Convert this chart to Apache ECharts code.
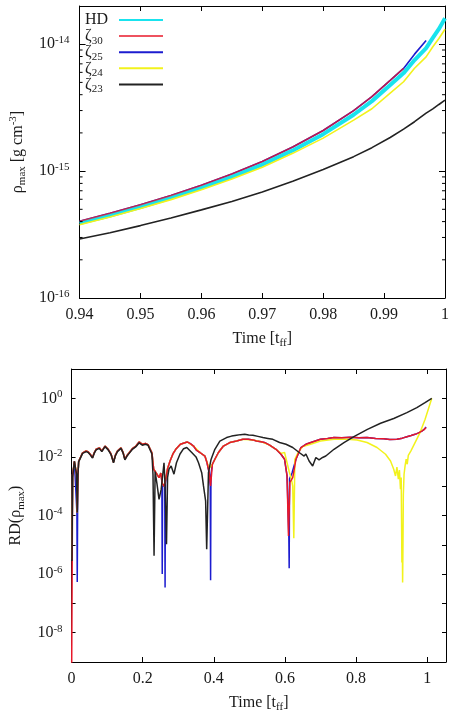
<!DOCTYPE html>
<html>
<head>
<meta charset="utf-8">
<script src="https://cdn.jsdelivr.net/npm/echarts@6.0.0/dist/echarts.min.js"></script>
<style>
    html, body { margin: 0; padding: 0; background: #fff; }
    #chart { width: 453px; height: 717px; }
</style>
</head>
<body>
<div id="chart"></div>
<script>
// ---- top panel: rho_max near collapse (t in t_ff) ----
const tZoom = [0.940, 0.945, 0.950, 0.955, 0.960, 0.965, 0.970, 0.975, 0.980, 0.985, 0.988, 0.991, 0.9932, 0.995, 0.9969, 0.998, 0.999, 1.000];
const rhoHD  = [3.89e-16, 4.47e-16, 5.21e-16, 6.17e-16, 7.38e-16, 9.02e-16, 1.125e-15, 1.455e-15, 1.954e-15, 2.78e-15, 3.56e-15, 4.76e-15, 5.92e-15, 7.50e-15, 9.31e-15, 1.12e-14, 1.32e-14, 1.60e-14];
const rhoZ30 = [4.03e-16, 4.66e-16, 5.43e-16, 6.43e-16, 7.73e-16, 9.48e-16, 1.19e-15, 1.55e-15, 2.09e-15, 3.00e-15, 3.86e-15, 5.18e-15, 6.44e-15];
const rhoZ25 = [4.03e-16, 4.66e-16, 5.43e-16, 6.43e-16, 7.73e-16, 9.48e-16, 1.19e-15, 1.55e-15, 2.09e-15, 3.00e-15, 3.86e-15, 5.18e-15, 6.44e-15, 8.35e-15, 1.07e-14];
const rhoZ24 = [3.78e-16, 4.35e-16, 5.07e-16, 5.96e-16, 7.13e-16, 8.65e-16, 1.074e-15, 1.38e-15, 1.82e-15, 2.52e-15, 3.10e-15, 4.11e-15, 5.06e-15, 6.46e-15, 7.94e-15, 9.55e-15, 1.11e-14, 1.31e-14];
const rhoZ23 = [2.92e-16, 3.27e-16, 3.72e-16, 4.27e-16, 4.95e-16, 5.75e-16, 6.84e-16, 8.32e-16, 1.03e-15, 1.30e-15, 1.53e-15, 1.84e-15, 2.14e-15, 2.45e-15, 2.86e-15, 3.09e-15, 3.35e-15, 3.62e-15];

// minor ticks of the top log axis
const rhoMinorTicks = [2e-16, 3e-16, 4e-16, 5e-16, 6e-16, 7e-16, 8e-16, 9e-16,
                       2e-15, 3e-15, 4e-15, 5e-15, 6e-15, 7e-15, 8e-15, 9e-15];

// ---- bottom panel: RD(rho_max) vs HD, pairs of [time, log10 RD] ----
const rdZ30 = [[0.000,-10],[0.003,-2.6],[0.008,-2.15],[0.012,-2.1],[0.014,-2.6],[0.016,-3.9],[0.018,-2.6],[0.020,-2.15],
    [0.031,-1.86],[0.041,-1.80],[0.047,-1.83],[0.053,-1.92],[0.059,-2.02],[0.064,-1.85],[0.069,-1.74],[0.078,-1.69],
    [0.085,-1.80],[0.094,-1.63],[0.103,-1.74],[0.111,-1.90],[0.118,-2.18],[0.123,-1.95],[0.129,-1.80],[0.139,-1.69],
    [0.145,-1.85],[0.150,-2.08],[0.156,-1.95],[0.162,-1.86],[0.171,-1.72],[0.181,-1.63],[0.190,-1.49],[0.199,-1.57],
    [0.208,-1.54],[0.215,-1.58],[0.220,-1.63],[0.226,-1.86],[0.231,-2.42],[0.240,-2.59],[0.246,-2.71],[0.251,-2.55],
    [0.255,-2.90],[0.260,-3.00],[0.264,-2.80],[0.270,-2.40],[0.277,-2.14],[0.285,-1.90],[0.293,-1.74],[0.306,-1.57],
    [0.325,-1.49],[0.334,-1.55],[0.343,-1.63],[0.352,-1.78],[0.361,-1.85],[0.375,-1.97],[0.381,-2.20],[0.387,-2.54],
    [0.391,-2.99],[0.396,-2.25],[0.403,-2.08],[0.413,-1.85],[0.427,-1.63],[0.445,-1.51],[0.464,-1.46],[0.482,-1.40],
    [0.497,-1.40],[0.510,-1.42],[0.520,-1.46],[0.533,-1.48],[0.545,-1.52],[0.557,-1.60],[0.575,-1.74],[0.589,-1.91],
    [0.599,-2.08],[0.606,-2.65],[0.610,-4.70],[0.614,-2.87],[0.622,-2.71],[0.631,-2.08],[0.645,-1.68],[0.659,-1.57],
    [0.673,-1.51],[0.700,-1.40],[0.720,-1.37],[0.738,-1.34],[0.760,-1.35],[0.785,-1.33],[0.808,-1.35],[0.831,-1.34],
    [0.855,-1.37],[0.878,-1.38],[0.895,-1.41],[0.915,-1.40],[0.930,-1.36],[0.943,-1.31],[0.955,-1.27],[0.966,-1.23],
    [0.976,-1.18],[0.985,-1.12],[0.991,-1.07],[0.997,-1.00]];
const rdZ25 = [[0.001,-5.5],[0.003,-2.6],[0.008,-2.15],[0.012,-2.1],[0.015,-3.9],[0.016,-6.27],[0.017,-3.9],[0.018,-2.6],[0.020,-2.15],
    [0.031,-1.86],[0.041,-1.80],[0.047,-1.83],[0.053,-1.92],[0.059,-2.02],[0.064,-1.85],[0.069,-1.74],[0.078,-1.69],
    [0.085,-1.80],[0.094,-1.63],[0.103,-1.74],[0.111,-1.90],[0.118,-2.18],[0.123,-1.95],[0.129,-1.80],[0.139,-1.69],
    [0.145,-1.85],[0.150,-2.08],[0.156,-1.95],[0.162,-1.86],[0.171,-1.72],[0.181,-1.63],[0.190,-1.49],[0.199,-1.57],
    [0.208,-1.54],[0.215,-1.58],[0.220,-1.63],[0.226,-1.86],[0.231,-2.42],[0.240,-2.59],[0.246,-2.71],[0.251,-2.55],
    [0.254,-2.85],[0.255,-6.00],[0.256,-3.00],[0.260,-3.00],[0.262,-3.00],[0.263,-6.46],[0.264,-2.90],[0.270,-2.40],
    [0.277,-2.14],[0.285,-1.90],[0.293,-1.74],[0.306,-1.57],[0.325,-1.49],[0.334,-1.55],[0.343,-1.63],[0.352,-1.78],
    [0.361,-1.85],[0.375,-1.97],[0.381,-2.20],[0.387,-2.54],[0.390,-2.99],[0.391,-6.21],[0.392,-2.60],[0.396,-2.25],
    [0.403,-2.08],[0.413,-1.85],[0.427,-1.63],[0.445,-1.51],[0.464,-1.46],[0.482,-1.40],[0.497,-1.40],[0.510,-1.42],
    [0.520,-1.46],[0.533,-1.48],[0.545,-1.52],[0.557,-1.60],[0.575,-1.74],[0.589,-1.91],[0.599,-2.08],[0.606,-2.65],
    [0.611,-4.70],[0.612,-5.80],[0.613,-2.75],[0.620,-2.55],[0.631,-2.08],[0.645,-1.68],[0.659,-1.57],
    [0.673,-1.51],[0.700,-1.40],[0.720,-1.37],[0.738,-1.34],[0.760,-1.35],[0.785,-1.33],[0.808,-1.35],[0.831,-1.34],
    [0.855,-1.37],[0.878,-1.38],[0.895,-1.41],[0.915,-1.40],[0.930,-1.36],[0.943,-1.31],[0.955,-1.27],[0.966,-1.23],
    [0.976,-1.18],[0.985,-1.12],[0.991,-1.07],[0.997,-0.98]];
const rdZ24 = [[0.001,-5.5],[0.003,-2.6],[0.008,-2.15],[0.012,-2.1],[0.014,-2.6],[0.016,-3.9],[0.018,-2.6],[0.020,-2.15],
    [0.031,-1.86],[0.041,-1.80],[0.047,-1.83],[0.053,-1.92],[0.059,-2.02],[0.064,-1.85],[0.069,-1.74],[0.078,-1.69],
    [0.085,-1.80],[0.094,-1.63],[0.103,-1.74],[0.111,-1.90],[0.118,-2.18],[0.123,-1.95],[0.129,-1.80],[0.139,-1.69],
    [0.145,-1.85],[0.150,-2.08],[0.156,-1.95],[0.162,-1.86],[0.171,-1.72],[0.181,-1.63],[0.190,-1.49],[0.199,-1.57],
    [0.208,-1.54],[0.215,-1.58],[0.220,-1.63],[0.226,-1.86],[0.231,-2.42],[0.240,-2.59],[0.246,-2.71],[0.251,-2.55],
    [0.255,-2.90],[0.260,-3.00],[0.264,-2.80],[0.270,-2.40],[0.277,-2.14],[0.285,-1.90],[0.293,-1.74],[0.306,-1.57],
    [0.325,-1.49],[0.343,-1.63],[0.361,-1.85],[0.375,-1.97],[0.387,-2.40],[0.396,-2.25],[0.413,-1.85],[0.427,-1.63],
    [0.445,-1.51],[0.464,-1.46],[0.482,-1.40],[0.510,-1.42],[0.533,-1.48],[0.557,-1.60],[0.575,-1.74],[0.589,-1.88],
    [0.599,-1.85],[0.606,-2.20],[0.612,-2.50],[0.618,-2.75],[0.622,-3.00],[0.625,-4.78],[0.628,-2.08],[0.637,-1.85],
    [0.650,-1.65],[0.672,-1.57],[0.700,-1.46],[0.738,-1.40],[0.775,-1.40],[0.803,-1.42],[0.831,-1.51],[0.859,-1.68],
    [0.883,-1.91],[0.897,-2.14],[0.906,-2.42],[0.911,-2.65],[0.915,-2.35],[0.919,-2.76],[0.922,-2.45],[0.925,-3.10],
    [0.927,-2.70],[0.929,-5.60],[0.930,-4.60],[0.931,-6.29],[0.932,-5.00],[0.933,-3.30],[0.935,-2.60],[0.938,-2.30],
    [0.941,-2.08],[0.944,-2.25],[0.947,-1.95],[0.954,-1.80],[0.966,-1.51],[0.980,-1.17],[0.994,-0.72],[1.003,-0.38],
    [1.013,0.00]];
const rdZ23 = [[0.001,-5.55],[0.003,-2.7],[0.008,-2.15],[0.012,-2.12],[0.014,-2.6],[0.016,-3.9],[0.018,-2.6],[0.020,-2.17],
    [0.031,-1.88],[0.041,-1.82],[0.047,-1.85],[0.053,-1.94],[0.059,-2.04],[0.064,-1.87],[0.069,-1.76],[0.078,-1.71],
    [0.085,-1.82],[0.094,-1.65],[0.103,-1.76],[0.111,-1.92],[0.118,-2.20],[0.123,-1.97],[0.129,-1.82],[0.139,-1.71],
    [0.145,-1.87],[0.150,-2.10],[0.156,-1.97],[0.162,-1.88],[0.171,-1.74],[0.181,-1.65],[0.190,-1.52],[0.199,-1.60],
    [0.208,-1.57],[0.215,-1.60],[0.220,-1.66],[0.226,-1.90],[0.229,-2.60],[0.232,-5.37],[0.235,-2.50],[0.240,-2.90],
    [0.246,-3.45],[0.252,-3.11],[0.260,-2.20],[0.263,-2.99],[0.267,-4.98],[0.270,-2.70],[0.274,-2.42],[0.280,-2.31],
    [0.288,-2.59],[0.295,-2.20],[0.305,-1.90],[0.315,-1.72],[0.324,-1.68],[0.338,-1.85],[0.350,-2.00],[0.357,-2.20],
    [0.366,-2.54],[0.371,-2.99],[0.377,-3.50],[0.380,-5.15],[0.385,-2.54],[0.392,-2.10],[0.403,-1.74],[0.417,-1.46],
    [0.436,-1.34],[0.450,-1.29],[0.464,-1.26],[0.475,-1.24],[0.487,-1.23],[0.498,-1.25],[0.510,-1.26],[0.524,-1.30],
    [0.538,-1.34],[0.552,-1.37],[0.566,-1.40],[0.585,-1.51],[0.603,-1.57],[0.622,-1.68],[0.640,-1.85],[0.645,-1.80],
    [0.654,-1.97],[0.659,-1.90],[0.668,-2.14],[0.678,-2.31],[0.687,-2.02],[0.696,-2.10],[0.706,-2.02],[0.715,-1.97],
    [0.738,-1.74],[0.766,-1.51],[0.794,-1.31],[0.832,-1.06],[0.869,-0.85],[0.906,-0.69],[0.943,-0.49],[0.971,-0.32],
    [0.994,-0.15],[1.013,0.00]];

const FONT = 'Liberation Serif';
const INK = '#1a1a1a';
const COLORS = { HD: '#19e3ee', z30: '#e8182a', z25: '#1c1ccf', z24: '#f2f21c', z23: '#222222' };

const richText = {
    b: { fontFamily: FONT, fontSize: 16, color: INK },
    sub: { fontFamily: FONT, fontSize: 11, color: INK, padding: [10, 0, 0, 0] },
    sup: { fontFamily: FONT, fontSize: 11, color: INK, padding: [0, 0, 8, 0] }
};
// legend text sits in a fixed-width box, tokens kept left-aligned
const legendRich = {
    b: { ...richText.b, align: 'left' },
    sub: { ...richText.sub, align: 'left' }
};

function powLabel(v, evenOnly) {
    const e = Math.log10(v);
    const r = Math.round(e);
    if (Math.abs(e - r) > 1e-6) return '';
    if (evenOnly && r % 2 !== 0) return '';
    return '{b|10}{sup|' + r + '}';
}

function zip(times, vals) {
    return vals.map((v, i) => [times[i], v]);
}

function fromLog(pairs) {
    return pairs.map(([t, e]) => [t, Math.pow(10, e)]);
}

const chart = echarts.init(document.getElementById('chart'), null, { renderer: 'canvas' });

const axisLine = { onZero: false, lineStyle: { color: '#000', width: 1 } };
const tickIn = (len) => ({ inside: true, length: len, lineStyle: { color: '#000', width: 1 } });
const labelStyle = { fontFamily: FONT, fontSize: 16, color: INK, rich: richText };
const nameStyle = { fontFamily: FONT, fontSize: 16, color: INK, rich: richText };

function line(name, data, color, width, xi, yi, z, opacity = 1) {
    return {
        name, type: 'line', data, xAxisIndex: xi, yAxisIndex: yi,
        symbol: 'none', showSymbol: false, z: z,
        lineStyle: { color, width, opacity }, itemStyle: { color },
        animation: false
    };
}

const option = {
    backgroundColor: '#fff',
    animation: false,
    grid: [
        { left: 79, right: 8, top: 6, height: 292 },
        { left: 69, right: 7, top: 369, height: 293 }
    ],
    legend: {
        data: ['HD', 'ζ30', 'ζ25', 'ζ24', 'ζ23'],
        orient: 'vertical',
        left: 80,
        top: 7,
        align: 'right',
        itemWidth: 44,
        itemHeight: 8,
        itemGap: -2.4,
        selectedMode: false,
        itemStyle: { opacity: 0 },
        formatter: (name) => name === 'HD' ? '{b|HD}{sub| }' : '{b|ζ}{sub|' + name.slice(1) + '}',
        textStyle: { fontFamily: FONT, fontSize: 16, color: INK, width: 29, rich: legendRich }
    },
    xAxis: [
        {
            gridIndex: 0, type: 'value', min: 0.94, max: 1, interval: 0.01,
            name: '{b|Time [t}{sub|ff}{b|]}', nameLocation: 'middle', nameGap: 30, nameTextStyle: nameStyle,
            axisLine, axisTick: tickIn(5), splitLine: { show: false },
            axisLabel: { ...labelStyle, margin: 9, formatter: (v) => String(+v.toFixed(2)) }
        },
        {
            gridIndex: 0, type: 'value', min: 0.94, max: 1, interval: 0.01, position: 'top',
            axisLine, axisTick: tickIn(5), axisLabel: { show: false }, splitLine: { show: false }
        },
        {
            gridIndex: 1, type: 'value', min: 0, max: 1.053, interval: 0.2,
            name: '{b|Time [t}{sub|ff}{b|]}', nameLocation: 'middle', nameGap: 30, nameTextStyle: nameStyle,
            axisLine, axisTick: tickIn(5), splitLine: { show: false },
            axisLabel: { ...labelStyle, margin: 9, formatter: (v) => v > 1.001 ? '' : String(+v.toFixed(1)) }
        },
        {
            gridIndex: 1, type: 'value', min: 0, max: 1.053, interval: 0.2, position: 'top',
            axisLine, axisTick: tickIn(5), axisLabel: { show: false }, splitLine: { show: false }
        }
    ],
    yAxis: [
        {
            gridIndex: 0, type: 'log', logBase: 10, min: 1e-16, max: 2e-14,
            name: '{b|ρ}{sub|max}{b| [g cm}{sup|-3}{b|]}', nameLocation: 'middle', nameRotate: 90, nameGap: 50,
            nameTextStyle: nameStyle,
            axisLine, axisTick: tickIn(6), splitLine: { show: false },
            axisLabel: { ...labelStyle, margin: 10, formatter: (v) => powLabel(v, false) }
        },
        {
            gridIndex: 0, type: 'log', logBase: 10, min: 1e-16, max: 2e-14, position: 'right',
            axisLine, axisTick: tickIn(6), axisLabel: { show: false }, splitLine: { show: false }
        },
        {
            gridIndex: 1, type: 'log', logBase: 10, min: 1e-9, max: 10, splitNumber: 10,
            name: '{b|RD(ρ}{sub|max}{b|)}', nameLocation: 'middle', nameRotate: 90, nameGap: 43,
            nameTextStyle: nameStyle,
            axisLine, axisTick: tickIn(4), splitLine: { show: false },
            axisLabel: { ...labelStyle, margin: 9, formatter: (v) => powLabel(v, true) }
        },
        {
            gridIndex: 1, type: 'log', logBase: 10, min: 1e-9, max: 10, splitNumber: 10, position: 'right',
            axisLine, axisTick: tickIn(4), axisLabel: { show: false }, splitLine: { show: false }
        }
    ],
    series: [
        // top panel (zeta30 drawn semi-transparent over zeta25, as in the original)
        line('ζ25', zip(tZoom, rhoZ25), COLORS.z25, 1.6, 0, 0, 2),
        line('HD', zip(tZoom, rhoHD), COLORS.HD, 4, 0, 0, 3),
        line('ζ24', zip(tZoom, rhoZ24), COLORS.z24, 1.6, 0, 0, 4),
        line('ζ30', zip(tZoom, rhoZ30), COLORS.z30, 1.6, 0, 0, 5, 0.75),
        line('ζ23', zip(tZoom, rhoZ23), COLORS.z23, 1.6, 0, 0, 6),
        {
            type: 'custom', xAxisIndex: 0, yAxisIndex: 0, silent: true, z: 8,
            data: rhoMinorTicks.map(v => [0.94, v]),
            renderItem: (params, api) => {
                const left = api.coord([0.94, api.value(1)]);
                const right = api.coord([1.0, api.value(1)]);
                const st = { stroke: '#000', lineWidth: 1 };
                return {
                    type: 'group',
                    children: [
                        { type: 'line', shape: { x1: left[0], y1: left[1], x2: left[0] + 3, y2: left[1] }, style: st },
                        { type: 'line', shape: { x1: right[0] - 3, y1: right[1], x2: right[0], y2: right[1] }, style: st }
                    ]
                };
            }
        },
        // bottom panel
        line('ζ25', fromLog(rdZ25), COLORS.z25, 1.5, 2, 2, 2),
        line('ζ24', fromLog(rdZ24), COLORS.z24, 1.5, 2, 2, 3),
        line('ζ30', fromLog(rdZ30), COLORS.z30, 1.5, 2, 2, 4),
        line('ζ23', fromLog(rdZ23), COLORS.z23, 1.5, 2, 2, 5)
    ]
};

chart.setOption(option);
window.addEventListener('resize', () => chart?.resize());
</script>
</body>
</html>
